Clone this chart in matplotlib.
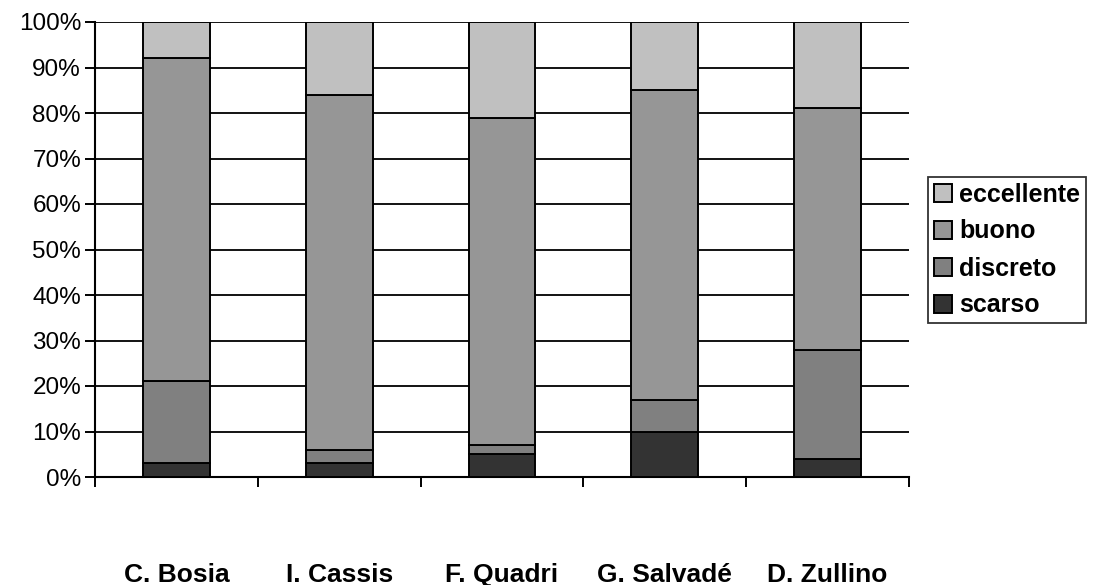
import matplotlib
matplotlib.use("Agg")
import matplotlib.pyplot as plt
from matplotlib.ticker import FixedLocator, PercentFormatter
import numpy as np

plt.rcParams['font.family'] = ['Liberation Sans', 'DejaVu Sans']

docenti = ["C. Bosia", "I. Cassis", "F. Quadri", "G. Salvadé", "D. Zullino"]
scarso = [3, 3, 5, 10, 4]
discreto = [18, 3, 2, 7, 24]
buono = [71, 78, 72, 68, 53]
eccellente = [8, 16, 21, 15, 19]

serie = [
    ("scarso", scarso, "#333333"),
    ("discreto", discreto, "#808080"),
    ("buono", buono, "#969696"),
    ("eccellente", eccellente, "#C0C0C0"),
]

fig = plt.figure(figsize=(10.99, 5.85), dpi=100)
ax = fig.add_axes([95 / 1099, 108 / 585, 814 / 1099, 455 / 585])

x = np.arange(len(docenti))
base = np.zeros(len(docenti))
handles = []
for nome, valori, colore in serie:
    b = ax.bar(x, valori, width=0.41, bottom=base, color=colore,
               edgecolor="black", linewidth=1.4, label=nome, zorder=3)
    handles.append(b)
    base += np.array(valori)

ax.set_xlim(-0.5, len(docenti) - 0.5)
ax.set_ylim(0, 100)

# horizontal grid
ax.yaxis.set_major_locator(FixedLocator(np.arange(0, 101, 10)))
ax.yaxis.set_major_formatter(PercentFormatter(decimals=0))
ax.grid(axis="y", color="black", linewidth=1.3, zorder=0)
ax.set_axisbelow(True)

# category boundaries as ticks, names centred between them
ax.xaxis.set_major_locator(FixedLocator(np.arange(-0.5, len(docenti), 1.0)))
ax.xaxis.set_major_formatter(plt.NullFormatter())
ax.xaxis.set_minor_locator(FixedLocator(x))
ax.set_xticklabels(docenti, minor=True, fontsize=19, fontweight="bold")
ax.tick_params(axis="x", which="minor", length=0, pad=62)
ax.tick_params(axis="x", which="major", length=7, width=1.4, direction="out")
ax.tick_params(axis="y", length=7, width=1.4, direction="out", labelsize=17.5, pad=3)

for s in ["top", "right"]:
    ax.spines[s].set_visible(False)
for s in ["left", "bottom"]:
    ax.spines[s].set_linewidth(1.5)
    ax.spines[s].set_color("black")

leg = fig.legend(handles[::-1], [h.get_label() for h in handles[::-1]],
                 loc="upper left", bbox_to_anchor=(928 / 1099, 1 - 177 / 585),
                 frameon=True, fancybox=False, edgecolor="black",
                 prop={"weight": "bold", "size": 18},
                 handlelength=0.72, handleheight=0.72, handletextpad=0.3,
                 labelspacing=0.52, borderpad=0.22, borderaxespad=0)
leg.get_frame().set_linewidth(1.3)

fig.savefig("out.png", dpi=100)
